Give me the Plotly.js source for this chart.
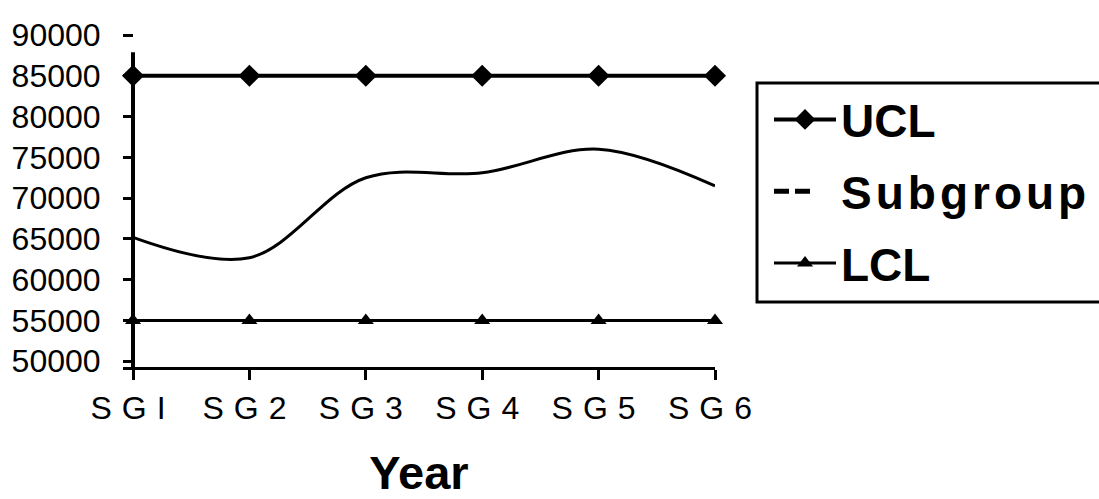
<!DOCTYPE html>
<html>
<head>
<meta charset="utf-8">
<script src="https://cdn.plot.ly/plotly-3.0.1.min.js"></script>
<style>
  html, body { margin: 0; padding: 0; background: #fff; }
  #chart { width: 1099px; height: 499px; }
</style>
</head>
<body>
<div id="chart"></div>
<script>
// ---- data ----
var categories = ["SGI", "SG2", "SG3", "SG4", "SG5", "SG6"];
var uclValues = [85000, 85000, 85000, 85000, 85000, 85000];
var subgroupValues = [65200, 62700, 72500, 73100, 76000, 71500];
var lclValues = [55000, 55000, 55000, 55000, 55000, 55000];
var yTickValues = [50000, 55000, 60000, 65000, 70000, 75000, 80000, 85000, 90000];
var yTickLabels = ["50000", "55000", "60000", "65000", "70000", "75000", "80000", "85000", "90000"];
var seriesNames = ["UCL", "Subgroup", "LCL"];
var xTitle = "Year";

// ---- drawing ----
var FONT = "Liberation Sans, Arial, Helvetica, sans-serif";
var plotLeft = 123, plotRight = 715, plotTop = 35, plotBottom = 367;
var plotW = plotRight - plotLeft, plotH = plotBottom - plotTop;
var axisOffset = 10 / plotW;
function px2paperX(px) { return (px - plotLeft) / plotW; }
function px2paperY(py) { return (plotBottom - py) / plotH; }

var xTickText = categories.map(function (c) {
  return '<span style="letter-spacing:10px">' + c + '</span>';
});

var traces = [
  {
    x: categories, y: uclValues, name: seriesNames[0], legendgroup: "a",
    type: "scatter", mode: "lines+markers",
    line: { color: "#000", width: 4 },
    marker: { symbol: "diamond", size: 17, color: "#000" },
    cliponaxis: false
  },
  {
    x: categories, y: subgroupValues, name: seriesNames[1], legendgroup: "b",
    type: "scatter", mode: "lines", showlegend: false,
    line: { color: "#000", width: 3, shape: "spline", smoothing: 1 }
  },
  {
    x: [null], y: [null], legendgroup: "b",
    name: '<span style="letter-spacing:4px">' + seriesNames[1] + '</span>',
    type: "scatter", mode: "lines", showlegend: true, hoverinfo: "skip",
    line: { color: "#000", width: 5, dash: "15px,6px,15px,200px" }
  },
  {
    x: categories, y: lclValues, name: seriesNames[2], legendgroup: "c",
    type: "scatter", mode: "lines+markers",
    line: { color: "#000", width: 3 },
    marker: { symbol: "triangle-up", size: 14, color: "#000" },
    cliponaxis: false
  }
];

var layout = {
  width: 1099, height: 499,
  paper_bgcolor: "#fff", plot_bgcolor: "#fff",
  margin: { l: plotLeft, r: 1099 - plotRight, t: plotTop, b: 499 - plotBottom, autoexpand: false },
  font: { family: FONT, color: "#000" },
  showlegend: true,
  xaxis: {
    type: "category",
    range: [-0.086, 5],
    tickmode: "array", tickvals: categories, ticktext: xTickText,
    showline: true, linecolor: "#000", linewidth: 3,
    ticks: "outside", ticklen: 10, tickwidth: 3, tickcolor: "#000",
    showgrid: false, zeroline: false,
    tickfont: { family: FONT, size: 32, color: "#000" },
    ticklabelstandoff: 1,
    title: { text: xTitle, font: { family: FONT, size: 47, weight: "bold", color: "#000" }, standoff: 32 }
  },
  yaxis: {
    range: [49300, 90000],
    anchor: "free", position: axisOffset,
    tickmode: "array", tickvals: yTickValues, ticktext: yTickLabels,
    showline: false,
    ticks: "outside", ticklen: 10, tickwidth: 3, tickcolor: "#000",
    showgrid: false, zeroline: false,
    tickfont: { family: FONT, size: 32, color: "#000" },
    ticklabelstandoff: 16
  },
  shapes: [
    { type: "line", xref: "paper", yref: "y", x0: axisOffset, x1: axisOffset, y0: 49300, y1: 87900,
      line: { color: "#000", width: 4 } },
    { type: "rect", xref: "paper", yref: "paper", layer: "below",
      x0: px2paperX(757), x1: px2paperX(1130), y0: px2paperY(302), y1: px2paperY(83),
      line: { color: "#000", width: 3 }, fillcolor: "rgba(0,0,0,0)" }
  ],
  legend: {
    x: px2paperX(769), xanchor: "left",
    y: px2paperY(83), yanchor: "top",
    borderwidth: 0, bgcolor: "rgba(0,0,0,0)",
    font: { family: FONT, size: 46, weight: "bold", color: "#000" },
    tracegroupgap: 9, itemwidth: 62, traceorder: "grouped"
  }
};

Plotly.newPlot("chart", traces, layout, { staticPlot: true, displayModeBar: false });
</script>
</body>
</html>
